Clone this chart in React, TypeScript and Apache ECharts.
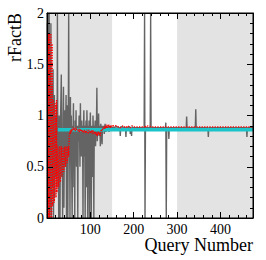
import React, { useEffect, useRef } from "react";
import * as echarts from "echarts";

// Query numbers 1..150 are given one value per query; later queries as [query, value] pairs.
const grayEarly: number[] = [
  1.9, 0, 2, 0.2, 2, 0, 1.6, 0.1, 1.9, 0,
  1.3, 0.3, 1.1, 1.45, 0, 0.9, 1.2, 0.2, 1.0, 0.4,
  0.8, 1.1, 0.3, 2, 0.5, 0.9, 0, 1.0, 0.6, 0,
  0.9, 1.15, 1.4, 0.4, 0.8, 0, 1.0, 1.28, 0.1, 0.7,
  1.05, 0.5, 0.9, 1.2, 0, 0.75, 1.1, 0, 0.8, 2,
  0.6, 0.9, 0, 1.18, 0.7, 1.0, 0.4, 0, 0.9, 0.8,
  1.12, 0.3, 0.85, 0, 0.95, 0.7, 1.05, 0.5, 0.9, 0.8,
  0, 0.9, 0.75, 1.0, 0.85, 0.5, 1.12, 0.8, 0.6, 0.95,
  0.7, 0.9, 0, 0.85, 1.05, 0.6, 0.9, 0, 0.8, 0.95,
  0.3, 1.05, 0.85, 0, 0.9, 0.7, 0.95, 0, 0.85, 1.03,
  0.6, 0, 0.9, 0.8, 0.4, 1.0, 0.85, 0, 0.9, 0.8,
  0.95, 0.7, 0.88, 0.9, 1.27, 0.75, 0.9, 0.85, 1.02, 0.8,
  0.9, 0.86, 0.7, 0.92, 0.88, 0.8, 0.72, 0.9, 0.87, 0.85,
  0.9, 0.82, 0.88, 0.92, 0.86, 0.84, 0.9, 0.87, 0.85, 0.89,
  0.88, 0.9, 0.84, 0.89, 0.87, 0.9, 0.86, 0.89, 0.88, 0.88,
];

const grayLate: [number, number][] = [
  [151, 0.88], [160, 0.89], [168, 0.88], [169, 0.8], [170, 0.89], [181, 0.88],
  [182, 0.79], [183, 0.88], [191, 0.89], [192, 0.82], [193, 0.88], [195, 0.8],
  [196, 0.89], [200, 0.88], [224, 0.88], [225, 2], [226, 0], [227, 0.88],
  [238, 0.88], [239, 2], [240, 0.88], [273, 0.88], [274, 0.93], [275, 0],
  [276, 0.88], [280, 0.88], [281, 0.77], [282, 0.88], [321, 0.88], [322, 0.99],
  [323, 0.88], [342, 0.88], [343, 1.06], [344, 0.88], [371, 0.88], [372, 0.79],
  [373, 0.88], [460, 0.88], [461, 0.79], [462, 0.88], [475, 0.88],
];

const redEarly: number[] = [
  0, 1.8, 0.6, 0, 1.8, 1.2, 0, 0.9, 1.8, 0.3, 0, 1.7,
  0.12, 0.6, 1.15, 0.5, 0.15, 0.7, 1.12, 0.4, 0.2, 1.15,
  0.25, 0.45, 0.7, 0.5, 0.3, 0.5, 0.7, 0.55, 0.35, 0.55, 0.7, 0.55, 0.4, 0.55,
  0.69, 0.58, 0.45, 0.6, 0.7, 0.6, 0.5, 0.6, 0.7, 0.62, 0.54, 0.62, 0.7, 0.6,
  0.78, 0.83, 0.85, 0.82, 0.86, 0.84, 0.87, 0.85, 0.86, 0.88,
  0.87, 0.86, 0.88, 0.87, 0.85, 0.87, 0.88, 0.86, 0.87, 0.87,
  0.86, 0.85, 0.87, 0.86, 0.84, 0.86, 0.87, 0.85, 0.86, 0.85,
  0.86, 0.84, 0.85, 0.83, 0.85, 0.86, 0.84, 0.85, 0.83, 0.85,
  0.84, 0.86, 0.85, 0.84, 0.82, 0.85, 0.86, 0.84, 0.85, 0.84,
  0.85, 0.83, 0.84, 0.86, 0.83, 0.82, 0.84, 0.85, 0.83, 0.84,
  0.82, 0.84, 0.83, 0.81, 0.83, 0.8, 0.82, 0.84, 0.82, 0.83,
  0.81, 0.83, 0.8, 0.84, 0.86, 0.85, 0.87, 0.86, 0.88, 0.87,
  0.88, 0.89, 0.87, 0.9, 0.88, 0.9, 0.89, 0.91, 0.88, 0.9,
  0.89, 0.9, 0.91, 0.89, 0.9, 0.88, 0.9, 0.89, 0.9, 0.89,
];

const redLate: [number, number][] = [
  [151, 0.9], [160, 0.9], [169, 0.88], [175, 0.9], [182, 0.88], [186, 0.9],
  [192, 0.88], [196, 0.9], [200, 0.89], [226, 0.89], [227, 0.88], [228, 0.9],
  [240, 0.89], [280, 0.89], [300, 0.89], [475, 0.89],
];

const cyanLevel = 0.86;
const cyanRange: [number, number] = [25, 475];
const shadedRanges: [number, number][] = [[0, 150], [300, 475]];

const xMin = 0;
const xMax = 475;
const yMin = 0;
const yMax = 2;

export default function App() {
  const ref = useRef<HTMLDivElement>(null);
  useEffect(() => {
    if (!ref.current) return;
    const chart = echarts.init(ref.current, undefined, { renderer: "svg" });
    const font = "Liberation Serif";
    const grayData = [
      ...grayEarly.map((v, i) => [i + 1, v]),
      ...grayLate,
    ];
    const redData = [
      ...redEarly.map((v, i) => [i + 1, v]),
      ...redLate,
    ];
    const axisCommon = {
      z: 20,
      axisLine: { show: true, onZero: false, lineStyle: { color: "#000", width: 1 } },
      axisTick: { show: true, inside: true, length: 6, lineStyle: { color: "#000", width: 1 } },
      minorTick: { show: true, splitNumber: 5, length: 3, lineStyle: { color: "#000", width: 1 } },
      splitLine: { show: false },
    };
    const xAxisBase = { type: "value" as const, min: xMin, max: xMax, interval: 100, ...axisCommon };
    const yAxisBase = { type: "value" as const, min: yMin, max: yMax, interval: 0.5, ...axisCommon };
    chart.setOption({
      animation: false,
      grid: {
        left: 47,
        right: 13,
        top: 13,
        bottom: 42,
        show: true,
        z: 30,
        backgroundColor: "transparent",
        borderColor: "#000",
        borderWidth: 1,
      },
      xAxis: [
        {
          ...xAxisBase,
          position: "bottom",
          axisLabel: {
            fontFamily: font,
            fontSize: 14,
            color: "#000",
            margin: 4,
            showMinLabel: false,
            showMaxLabel: false,
          },
        },
        { ...xAxisBase, position: "top", axisLabel: { show: false } },
      ],
      yAxis: [
        {
          ...yAxisBase,
          position: "left",
          axisLabel: { fontFamily: font, fontSize: 14, color: "#000", margin: 3 },
        },
        { ...yAxisBase, position: "right", axisLabel: { show: false } },
      ],
      series: [
        {
          type: "line",
          data: [],
          z: 1,
          silent: true,
          markArea: {
            silent: true,
            itemStyle: { color: "rgba(200,200,200,0.5)" },
            data: shadedRanges.map(([a, b]) => [{ xAxis: a }, { xAxis: b }]),
          },
        },
        {
          type: "line",
          data: grayData,
          z: 2,
          symbol: "none",
          lineStyle: { color: "#646464", width: 1.4 },
        },
        {
          type: "line",
          data: [
            [cyanRange[0], cyanLevel],
            [cyanRange[1], cyanLevel],
          ],
          z: 3,
          symbol: "none",
          lineStyle: { color: "#1cc4c8", width: 3.5 },
        },
        {
          type: "line",
          data: redData,
          z: 4,
          symbol: "none",
          lineStyle: { color: "#ff0000", width: 1.3, type: "dotted" },
        },
      ],
      graphic: [
        {
          type: "text",
          x: 253,
          y: 245,
          style: {
            text: "Query Number",
            fontFamily: font,
            fontSize: 18,
            fill: "#000",
            align: "right",
            verticalAlign: "middle",
          },
        },
        {
          type: "text",
          x: 15,
          y: 13,
          rotation: Math.PI / 2,
          style: {
            text: "rFactB",
            fontFamily: font,
            fontSize: 18,
            fill: "#000",
            align: "right",
            verticalAlign: "middle",
          },
        },
      ],
    });
    return () => chart.dispose();
  }, []);
  return (
    <div
      ref={ref}
      style={{ position: "absolute", left: 0, top: 0, width: 266, height: 260, background: "#fff" }}
    />
  );
}
